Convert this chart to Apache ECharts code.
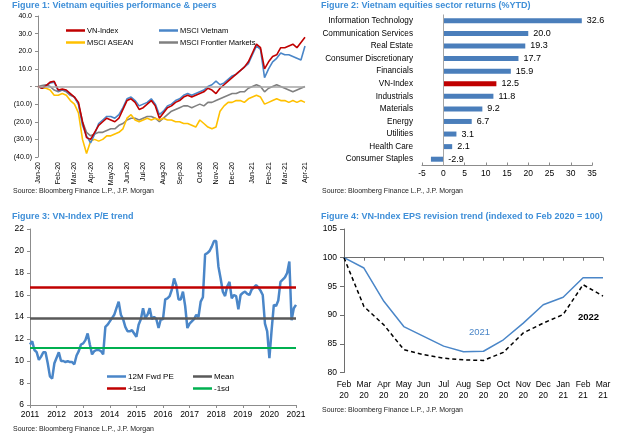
<!DOCTYPE html>
<html>
<head>
<meta charset="utf-8">
<script src="https://cdn.jsdelivr.net/npm/echarts@6/dist/echarts.min.js"></script>
<style>
html, body { margin: 0; padding: 0; background: #fff; }
#main { width: 640px; height: 442px; }
</style>
</head>
<body>
<div id="main"></div>
<script>
// ---- Figure 1: weekly points (Wednesdays), rebased to 0 at 1 Jan 2020
var perfDates = [];
for (var t = Date.UTC(2020, 0, 1); t <= Date.UTC(2021, 3, 7); t += 7 * 864e5) {
    perfDates.push(new Date(t).toISOString().slice(0, 10));
}
var vnIndex = [0, -1, 0.5, 2.5, 3,  -2, -1.5, -2, -4,  -6, -9, -20, -29,
    -30, -26, -22, -20, -18,  -19, -20, -18, -13,  -8, -7, -9, -13,
    -12, -10, -8, -11, -18,  -15, -12, -11, -9,  -8, -6, -5, -6, -5,
    -4, -3, -1, -2,  -4, -1, 1, 3,  5, 7, 9, 11, 14,
    19, 24, 22, 10,  14, 17, 18, 22,  22, 23, 24, 22, 25,  28];
var msciVietnam = [0, -1, 0.5, 2, 2.5,  -2.5, -2, -2.5, -4.5,  -6, -10, -22, -28,
    -32, -27, -21, -19, -17,  -17, -18, -16, -12,  -7, -6, -8, -11,
    -10, -9, -7, -10, -16,  -14, -11, -10, -8,  -7, -5, -4, -5, -4,
    -3, -2, 0, 1,  3, 1, 2, 4,  6, 7, 9, 11, 13,
    18, 23, 21, 5,  10, 14, 16, 19,  18, 18, 17, 16, 15,  23];
var msciAsean = [0, -1, -1, -2, -5,  -5, -4, -5, -8,  -10, -15, -30, -38,
    -31, -30, -31, -30, -28,  -28, -27, -26, -24,  -18, -16, -19, -20,
    -19, -18, -19, -18, -19,  -18, -19, -19, -20,  -20, -21, -21, -22, -23,
    -19, -21, -23, -24,  -23, -14, -11, -9,  -9, -8, -8, -9, -7,
    -6, -5, -6, -10,  -9, -8, -7, -8,  -8, -9, -8, -9, -8,  -9];
var msciFrontier = [0, 0.5, 1, 0, -2,  -3, -2, -3, -5,  -6, -10, -20, -26,
    -28, -27, -26, -26, -25,  -24, -24, -22, -21,  -19, -18, -18, -19,
    -18, -17, -17, -18, -20,  -18, -16, -14, -13,  -12, -11, -11, -12, -11,
    -10, -11, -9, -9,  -8, -7, -6, -5,  -4, -4, -3, -3, -1,
    0, 1, 0, -3,  -1, 0, 1, 0,  -1, -2, -3, -2, -1,  0];

// ---- Figure 2: sector returns %YTD
var sectorNames = ['Information Technology', 'Communication Services', 'Real Estate',
    'Consumer Discretionary', 'Financials', 'VN-Index', 'Industrials', 'Materials',
    'Energy', 'Utilities', 'Health Care', 'Consumer Staples'];
var sectorReturns = [32.6, 20.0, 19.3, 17.7, 15.9, 12.5, 11.8, 9.2, 6.7, 3.1, 2.1, -2.9];

// ---- Figure 3: monthly 12M fwd PE, Jan 2011 - Jan 2021
var peMonths = [];
for (var y = 2011; y <= 2021; y++) {
    for (var m = 1; m <= 12; m++) {
        if (y === 2021 && m > 1) break;
        peMonths.push(y + '-' + (m < 10 ? '0' + m : m));
    }
}
var fwdPE = [
    11.5, 11.8, 11.0, 10.8, 10.1, 10.4, 10.8, 10.8, 9.8, 8.6, 8.4, 9.8,
    10.3, 10.8, 10.0, 10.0, 9.9, 10.0, 9.9, 9.9, 9.7, 10.5, 10.9, 11.5,
    11.6, 11.9, 12.5, 11.5, 10.6, 10.9, 11.0, 11.0, 10.9, 10.6, 13.1, 13.3,
    13.6, 13.9, 14.2, 14.8, 15.4, 14.2, 13.8, 13.1, 12.7, 12.7, 12.8, 12.5,
    12.2, 13.3, 13.8, 14.8, 13.9, 14.2, 14.8, 13.8, 14.0, 13.8, 13.0, 13.8,
    13.8, 15.6, 15.7, 15.9, 16.5, 17.5, 16.9, 15.6, 15.6, 16.3, 15.0, 13.0,
    13.4, 13.6, 13.8, 14.2, 14.0, 15.4, 15.8, 19.7, 19.8, 20.0, 20.4, 20.9,
    20.9, 18.6, 17.5, 16.3, 15.9, 16.8, 17.2, 15.7, 16.0, 15.9, 14.7, 16.0,
    16.2, 16.3, 16.1, 16.0, 16.5, 16.7, 16.9, 16.7, 16.4, 16.0, 13.4, 12.7,
    10.25, 12.8, 15.1, 15.0, 15.5, 17.2, 17.4, 17.6, 18.0, 19.05, 13.7, 14.8,
    15.1];
var peMean = 13.9;
var pePlus1sd = 16.7;
var peMinus1sd = 11.2;

// ---- Figure 4: EPS revisions, Feb 2020 = 100
var epsMonths = ['Feb 20', 'Mar 20', 'Apr 20', 'May 20', 'Jun 20', 'Jul 20', 'Aug 20',
    'Sep 20', 'Oct 20', 'Nov 20', 'Dec 20', 'Jan 21', 'Feb 21', 'Mar 21'];
var eps2021 = [100, 98.2, 92.4, 88.0, 86.3, 84.6, 83.6, 83.7, 85.7, 88.6, 91.8, 93.1, 96.5, 96.5];
var eps2022 = [100, 91.5, 88.3, 84.0, 83.1, 82.5, 82.2, 82.1, 83.5, 86.9, 88.6, 90.1, 95.3, 93.3];

var NARROW = "'Liberation Sans Narrow','Arial Narrow','Liberation Sans',Arial,sans-serif";
var TITLE_BLUE = '#3F8FD8';
var AXIS_GREY = '#8C8C8C';
var RED = '#C00000';
var BLUE = '#4A86C8';
var MON = ['Jan', 'Feb', 'Mar', 'Apr', 'May', 'Jun', 'Jul', 'Aug', 'Sep', 'Oct', 'Nov', 'Dec'];

function monthStart(i) {
    return i === 0 || perfDates[i].slice(5, 7) !== perfDates[i - 1].slice(5, 7);
}
function perfLabel(v) {
    return MON[+v.slice(5, 7) - 1] + '-' + v.slice(2, 4);
}
function bracketFmt(v) {
    if (v === 0) return '-';
    return v < 0 ? '(' + Math.abs(v).toFixed(1) + ')' : v.toFixed(1);
}
function legendAt(name, left, top, size) {
    return {
        data: [name], left: left, top: top, icon: 'rect',
        itemWidth: 19, itemHeight: 2.5, itemGap: 0, padding: 0,
        textStyle: { fontSize: size, color: '#000', fontFamily: NARROW, padding: [0, 0, 0, -3] }
    };
}

var myChart = echarts.init(document.getElementById('main'));
var option = {
    animation: false,
    textStyle: { fontFamily: NARROW },
    title: [
        { text: 'Figure 1: Vietnam equities performance & peers', left: 12, top: 1 },
        { text: 'Figure 2: Vietnam equities sector returns (%YTD)', left: 321, top: 1 },
        { text: 'Figure 3: VN-Index P/E trend', left: 12, top: 212 },
        { text: 'Figure 4: VN-Index EPS revision trend (indexed to Feb 2020 = 100)', left: 321, top: 212 }
    ].map(function (t) {
        t.padding = 0;
        t.textStyle = { fontSize: 9, fontWeight: 'bold', color: TITLE_BLUE, fontFamily: NARROW };
        return t;
    }),
    graphic: [
        { x: 13, y: 188 }, { x: 322, y: 188 }, { x: 13, y: 426 }, { x: 322, y: 407 }
    ].map(function (p) {
        return {
            type: 'text', x: p.x, y: p.y,
            style: { text: 'Source: Bloomberg Finance L.P., J.P. Morgan', fill: '#222', font: '7px ' + NARROW }
        };
    }).concat([
        { type: 'text', x: 469, y: 327, style: { text: '2021', fill: BLUE, font: '9.5px ' + NARROW } },
        { type: 'text', x: 578, y: 312, style: { text: '2022', fill: '#000', font: 'bold 9.5px ' + NARROW } }
    ]),
    legend: [
        legendAt('VN-Index', 66, 26.5, 7.5),
        legendAt('MSCI Vietnam', 159, 26.5, 7.5),
        legendAt('MSCI ASEAN', 66, 38.5, 7.5),
        legendAt('MSCI Frontier Markets', 159, 38.5, 7.5),
        legendAt('12M Fwd PE', 107, 372.5, 8),
        legendAt('Mean', 193, 372.5, 8),
        legendAt('+1sd', 107, 384.5, 8),
        legendAt('-1sd', 193, 384.5, 8)
    ],
    grid: [
        { left: 38, top: 16, width: 267, height: 141 },
        { left: 422, top: 14.5, width: 170, height: 151 },
        { left: 30, top: 229, width: 266, height: 176 },
        { left: 344, top: 229, width: 259, height: 143.5 }
    ],
    xAxis: [
        {
            gridIndex: 0, type: 'category', data: perfDates, boundaryGap: false,
            axisLine: { show: false }, axisTick: { show: false },
            axisLabel: { interval: monthStart, rotate: 90, fontSize: 7, color: '#000', margin: 5, formatter: perfLabel }
        },
        {
            gridIndex: 1, type: 'value', min: -5, max: 35, interval: 5,
            splitLine: { show: false },
            axisLine: { show: true, lineStyle: { color: AXIS_GREY } },
            axisTick: { show: true, inside: true, length: 3, lineStyle: { color: AXIS_GREY } },
            axisLabel: { fontSize: 8.5, color: '#000', margin: 4 }
        },
        {
            gridIndex: 2, type: 'category', data: peMonths, boundaryGap: false,
            axisLine: { lineStyle: { color: AXIS_GREY } },
            axisTick: { interval: function (i) { return i % 12 === 0; }, length: 3, lineStyle: { color: AXIS_GREY } },
            axisLabel: {
                interval: function (i) { return i % 12 === 0; }, fontSize: 8.5, color: '#000', margin: 5,
                formatter: function (v) { return v.slice(0, 4); }
            }
        },
        {
            gridIndex: 3, type: 'category', data: epsMonths, boundaryGap: false,
            axisLine: { show: false }, axisTick: { show: false },
            axisLabel: {
                interval: 0, fontSize: 8.5, color: '#000', margin: 7, lineHeight: 11,
                formatter: function (v) { return v.replace(' ', '\n'); }
            }
        },
        {
            // line at 100 with its ticks
            gridIndex: 3, type: 'category', data: epsMonths, boundaryGap: false,
            position: 'top', offset: -28.7,
            axisLine: { lineStyle: { color: '#6E6E6E', width: 1.2 } },
            axisTick: { inside: true, interval: 0, length: 3, lineStyle: { color: '#6E6E6E' } },
            axisLabel: { show: false }
        }
    ],
    yAxis: [
        {
            gridIndex: 0, type: 'value', min: -40, max: 40, interval: 10,
            splitLine: { show: false },
            axisLine: { show: true, lineStyle: { color: AXIS_GREY } },
            axisTick: { show: true, length: 3, lineStyle: { color: AXIS_GREY } },
            axisLabel: { fontSize: 7, color: '#000', margin: 6, formatter: bracketFmt }
        },
        {
            gridIndex: 1, type: 'category', data: sectorNames, inverse: true,
            axisLine: { show: false, onZero: false }, axisTick: { show: false },
            axisLabel: { interval: 0, fontSize: 8.2, color: '#000', margin: 9 }
        },
        {
            gridIndex: 2, type: 'value', min: 6, max: 22, interval: 2,
            splitLine: { show: false },
            axisLine: { show: true, lineStyle: { color: AXIS_GREY } },
            axisTick: { show: true, length: 3, lineStyle: { color: AXIS_GREY } },
            axisLabel: { fontSize: 8.5, color: '#000', margin: 6 }
        },
        {
            gridIndex: 3, type: 'value', min: 80, max: 105, interval: 5,
            splitLine: { show: false },
            axisLine: { show: true, lineStyle: { color: '#6E6E6E' } },
            axisTick: { show: true, length: 4, lineStyle: { color: '#6E6E6E' } },
            axisLabel: { fontSize: 8.5, color: '#000', margin: 7 }
        }
    ],
    series: [
        {
            name: 'MSCI Frontier Markets', type: 'line', xAxisIndex: 0, yAxisIndex: 0,
            data: msciFrontier, showSymbol: false, color: '#808080', lineStyle: { width: 1.6 },
            markLine: {
                silent: true, symbol: 'none', label: { show: false },
                lineStyle: { color: '#A6A6A6', width: 1.5, type: 'solid' },
                data: [{ yAxis: 0 }]
            }
        },
        {
            name: 'MSCI ASEAN', type: 'line', xAxisIndex: 0, yAxisIndex: 0,
            data: msciAsean, showSymbol: false, color: '#FFC000', lineStyle: { width: 1.6 }
        },
        {
            name: 'MSCI Vietnam', type: 'line', xAxisIndex: 0, yAxisIndex: 0,
            data: msciVietnam, showSymbol: false, color: BLUE, lineStyle: { width: 1.6 }
        },
        {
            name: 'VN-Index', type: 'line', xAxisIndex: 0, yAxisIndex: 0,
            data: vnIndex, showSymbol: false, color: RED, lineStyle: { width: 1.6 }
        },
        {
            name: 'Sector returns', type: 'bar', xAxisIndex: 1, yAxisIndex: 1,
            data: sectorReturns, barWidth: 5,
            itemStyle: {
                color: function (p) { return p.name === 'VN-Index' ? RED : '#4A7EBB'; }
            },
            label: {
                show: true, position: 'right', distance: 5, fontSize: 9, color: '#000',
                formatter: function (p) { return p.value.toFixed(1); }
            },
            markLine: {
                silent: true, symbol: 'none', label: { show: false },
                lineStyle: { color: '#A6A6A6', width: 1, type: 'solid' },
                data: [{ xAxis: 0 }]
            }
        },
        {
            name: 'Mean', type: 'line', xAxisIndex: 2, yAxisIndex: 2, data: [],
            color: '#595959',
            markLine: {
                silent: true, symbol: 'none', label: { show: false },
                lineStyle: { color: '#595959', width: 2.5, type: 'solid' },
                data: [{ yAxis: peMean }]
            }
        },
        {
            name: '+1sd', type: 'line', xAxisIndex: 2, yAxisIndex: 2, data: [],
            color: RED,
            markLine: {
                silent: true, symbol: 'none', label: { show: false },
                lineStyle: { color: RED, width: 2.5, type: 'solid' },
                data: [{ yAxis: pePlus1sd }]
            }
        },
        {
            name: '-1sd', type: 'line', xAxisIndex: 2, yAxisIndex: 2, data: [],
            color: '#00B050',
            markLine: {
                silent: true, symbol: 'none', label: { show: false },
                lineStyle: { color: '#00B050', width: 2, type: 'solid' },
                data: [{ yAxis: peMinus1sd }]
            }
        },
        {
            name: '12M Fwd PE', type: 'line', xAxisIndex: 2, yAxisIndex: 2,
            data: fwdPE, showSymbol: false, color: BLUE, lineStyle: { width: 2.5 }
        },
        {
            name: '2021', type: 'line', xAxisIndex: 3, yAxisIndex: 3,
            data: eps2021, showSymbol: false, color: BLUE, lineStyle: { width: 1.5 }
        },
        {
            name: '2022', type: 'line', xAxisIndex: 3, yAxisIndex: 3,
            data: eps2022, showSymbol: false, color: '#000', lineStyle: { width: 1.5, type: [4, 3] }
        }
    ]
};
myChart.setOption(option);
</script>
</body>
</html>
